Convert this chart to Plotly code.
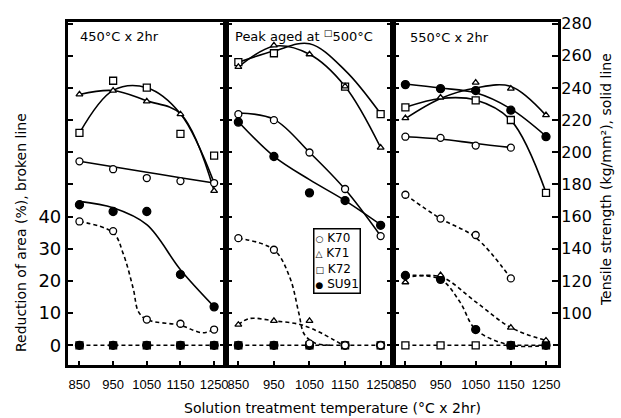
import plotly.graph_objects as go

W, H = 621, 418
FONT = "DejaVu Sans"
TICKFONT = "Liberation Sans"

temps = [850, 950, 1050, 1150, 1250]
steels = ["K70", "K71", "K72", "SU91"]

# ---------------- 450°C x 2hr ----------------
ts450_K70 = [194.4, 189.5, 184.0, 182.1, 180.9]
ts450_K71 = [236.0, 238.4, 231.7, 223.7, 176.0]
ts450_K72 = [212.1, 244.5, 240.2, 211.5, 198.0]
ts450_SU91 = [167.4, 163.2, 163.2, 124.0, 103.9]
ts450_K70_fit = [194.4, 191.0, 187.6, 184.2, 180.9]
ts450_K71_fit = [236.0, 238.4, 232.0, 224.0, 176.0]
ts450_K72_fit = [212.0, 238.5, 240.2, 224.0, 181.0]
ts450_SU91_fit = [169.5, 165.5, 155.0, 127.0, 104.0]

ra450_K70 = [38.5, 35.5, 8.0, 6.7, 4.9]
ra450_K71 = [None, None, None, None, None]
ra450_K72 = [0, 0, 0, 0, 0]
ra450_SU91 = [0, 0, 0, 0, 0]
ra450_K70_fit_t = [850, 950, 980, 1010, 1025, 1050, 1150, 1215, 1250]
ra450_K70_fit = [38.5, 35.0, 28.5, 17.5, 10.5, 8.0, 6.2, 3.9, 4.9]
ra450_K72_fit_t = [850, 1250]
ra450_K72_fit = [0, 0]

# ---------------- Peak aged at 500°C ----------------
ts500_K70 = [223.7, 220.0, 199.9, 177.2, 147.9]
ts500_K71 = [253.1, 266.5, 261.0, 241.0, 202.9]
ts500_K72 = [256.1, 261.6, None, 240.9, 223.7]
ts500_SU91 = [218.8, 197.4, 174.8, 170.0, 154.6]
ts500_K70_fit = [224.5, 220.5, 200.0, 177.0, 148.0]
ts500_K71_fit = [253.0, 266.0, 261.0, 241.0, 203.0]
ts500_K72_fit = [256.0, 263.0, 267.5, 251.0, 224.0]
ts500_SU91_fit = [219.0, 197.5, 183.0, 170.0, 155.0]

ra500_K70 = [33.3, 29.7, 0.6, 0, 0]
ra500_K71 = [6.4, 7.6, 7.6, None, None]
ra500_K72 = [0, 0, 0, 0, 0]
ra500_SU91 = [0, 0, 0, 0, 0]
ra500_K70_fit_t = [850, 950, 995, 1020, 1035, 1065, 1110]
ra500_K70_fit = [33.3, 29.7, 21.0, 10.0, 3.5, 0.7, 0.0]
ra500_K71_fit_t = [850, 880, 950, 1035, 1145]
ra500_K71_fit = [6.4, 8.3, 7.6, 6.1, 0.0]
ra500_K72_fit_t = [850, 1250]
ra500_K72_fit = [0, 0]

# ---------------- 550°C x 2hr ----------------
ts550_K70 = [209.7, 209.0, 204.2, 202.9, None]
ts550_K71 = [221.3, 234.1, 243.3, 239.6, 223.1]
ts550_K72 = [228.0, None, 232.3, 220.1, 174.8]
ts550_SU91 = [242.1, 239.6, 238.4, 226.2, 209.7]
ts550_K70_fit = [209.7, 208.3, 205.5, 203.0, None]
ts550_K71_fit = [221.0, 233.5, 240.0, 241.0, 223.0]
ts550_K72_fit = [228.0, 233.5, 232.5, 220.0, 175.0]
ts550_SU91_fit = [242.5, 240.0, 237.0, 227.0, 210.0]

ra550_K70 = [46.8, 39.4, 34.3, 20.8, None]
ra550_K71 = [19.6, 21.8, None, 5.5, 1.5]
ra550_K72 = [0, 0, 0, 0, 0]
ra550_SU91 = [21.7, 20.5, 4.9, 0, 0]
ra550_K70_fit_t = [850, 950, 1050, 1150]
ra550_K70_fit = [46.8, 39.4, 33.5, 20.8]
ra550_K71_fit_t = [850, 950, 1050, 1150, 1250]
ra550_K71_fit = [21.0, 21.3, 13.5, 5.5, 1.5]
ra550_SU91_fit_t = [850, 950, 1005, 1050, 1150, 1250]
ra550_SU91_fit = [21.7, 20.5, 13.5, 4.9, 0.0, 0.0]
ra550_K72_fit_t = [850, 1250]
ra550_K72_fit = [0, 0]

panel_titles = ["450°C x 2hr", "Peak aged at <sup>□</sup>500°C", "550°C x 2hr"]
pct_ticks = [0, 10, 20, 30, 40]
pct_all_ticks = [0, 10, 20, 30, 40, 50, 60, 70, 80, 90, 100]
kg_upper_ticks = [180, 200, 220, 240, 260, 280]
kg_ticks = [100, 120, 140, 160, 180, 200, 220, 240, 260, 280]
legend_symbols = {"K70": "○", "K71": "△", "K72": "□", "SU91": "●"}

# ---------------- figure ----------------
fig = go.Figure()

panels = [
    dict(xa="x", ya="y", yk="y4",
         ts=dict(K70=ts450_K70, K71=ts450_K71, K72=ts450_K72, SU91=ts450_SU91),
         tsfit=dict(K70=ts450_K70_fit, K71=ts450_K71_fit, K72=ts450_K72_fit, SU91=ts450_SU91_fit),
         ra=dict(K70=ra450_K70, K71=ra450_K71, K72=ra450_K72, SU91=ra450_SU91),
         rafit=[(ra450_K70_fit_t, ra450_K70_fit), (ra450_K72_fit_t, ra450_K72_fit)]),
    dict(xa="x2", ya="y2", yk="y5",
         ts=dict(K70=ts500_K70, K71=ts500_K71, K72=ts500_K72, SU91=ts500_SU91),
         tsfit=dict(K70=ts500_K70_fit, K71=ts500_K71_fit, K72=ts500_K72_fit, SU91=ts500_SU91_fit),
         ra=dict(K70=ra500_K70, K71=ra500_K71, K72=ra500_K72, SU91=ra500_SU91),
         rafit=[(ra500_K70_fit_t, ra500_K70_fit), (ra500_K71_fit_t, ra500_K71_fit),
                (ra500_K72_fit_t, ra500_K72_fit)]),
    dict(xa="x3", ya="y3", yk="y6",
         ts=dict(K70=ts550_K70, K71=ts550_K71, K72=ts550_K72, SU91=ts550_SU91),
         tsfit=dict(K70=ts550_K70_fit, K71=ts550_K71_fit, K72=ts550_K72_fit, SU91=ts550_SU91_fit),
         ra=dict(K70=ra550_K70, K71=ra550_K71, K72=ra550_K72, SU91=ra550_SU91),
         rafit=[(ra550_K70_fit_t, ra550_K70_fit), (ra550_K71_fit_t, ra550_K71_fit),
                (ra550_SU91_fit_t, ra550_SU91_fit), (ra550_K72_fit_t, ra550_K72_fit)]),
]

symbols = {"K70": "circle", "K71": "triangle-up", "K72": "square", "SU91": "circle"}
fills = {"K70": "white", "K71": "white", "K72": "white", "SU91": "black"}
sizes = {"K70": 7, "K71": 6, "K72": 7, "SU91": 8}

# curves first
for p in panels:
    for s in steels:
        fig.add_trace(go.Scatter(
            x=temps, y=p["tsfit"][s], xaxis=p["xa"], yaxis=p["yk"], mode="lines",
            line=dict(color="black", width=1.6, shape="spline", smoothing=1.0),
            showlegend=False, hoverinfo="skip"))
    for tx, ty in p["rafit"]:
        fig.add_trace(go.Scatter(
            x=tx, y=ty, xaxis=p["xa"], yaxis=p["ya"], mode="lines",
            line=dict(color="black", width=1.6, dash="4px,3px", shape="spline", smoothing=1.0),
            showlegend=False, hoverinfo="skip"))

# markers
for p in panels:
    for s in ["K72", "SU91", "K71", "K70"]:
        mk = dict(symbol=symbols[s], size=sizes[s], color=fills[s],
                  line=dict(color="black", width=1.3))
        fig.add_trace(go.Scatter(
            x=temps, y=p["ra"][s], xaxis=p["xa"], yaxis=p["ya"], mode="markers",
            marker=mk, showlegend=False, hoverinfo="skip"))
        fig.add_trace(go.Scatter(
            x=temps, y=p["ts"][s], xaxis=p["xa"], yaxis=p["yk"], mode="markers",
            marker=mk, showlegend=False, hoverinfo="skip"))

# ---------------- axes ----------------
pct_range = [-6.1, 100.6]
kg_range = [80 + 2 * pct_range[0], 80 + 2 * pct_range[1]]
x_doms = [(68, 227), (227, 395), (395, 561)]
y_dom = [1 - 364 / H, 1 - 15 / H]

layout = dict(width=W, height=H, margin=dict(l=0, r=0, t=0, b=0),
              paper_bgcolor="white", plot_bgcolor="white", showlegend=False,
              font=dict(family=FONT, color="black"))

tick_common = dict(ticks="inside", tickwidth=1.5, tickcolor="black",
                   showgrid=False, zeroline=False, fixedrange=True)

for i, (a, b) in enumerate(x_doms):
    n = "" if i == 0 else str(i + 1)
    layout["xaxis" + n] = dict(
        domain=[a / W, b / W], anchor="y" + n, range=[815, 1285],
        tickvals=temps, ticktext=[str(t) for t in temps], tickangle=0,
        ticklen=4, showline=True, linewidth=2.5, linecolor="black", mirror=True,
        tickfont=dict(size=13, family=TICKFONT), ticklabelstandoff=6, **tick_common)
    if i == 0:
        yt = dict(tickvals=pct_ticks, showticklabels=True)
    else:
        yt = dict(tickvals=pct_all_ticks, showticklabels=False)
    layout["yaxis" + n] = dict(
        domain=y_dom, anchor="x" + n, range=pct_range, ticklen=6,
        showline=True, linewidth=2.5, linecolor="black", mirror="ticks",
        tickfont=dict(size=18, family=FONT), **yt, **tick_common)
    kn = str(i + 4)
    ax = dict(domain=y_dom, anchor="x" + n, overlaying="y" + n, range=kg_range)
    if i == 0:
        ax.update(tickvals=kg_upper_ticks, showticklabels=False, ticklen=6,
                  showline=True, linewidth=2.5, linecolor="black", mirror="ticks",
                  **tick_common)
    elif i == 2:
        ax.update(side="right", tickvals=kg_ticks, ticklen=6, showline=False,
                  tickfont=dict(size=16, family=FONT), ticklabelstandoff=2,
                  **tick_common)
    else:
        ax.update(visible=False, fixedrange=True)
    layout["yaxis" + kn] = ax

ann = []
title_pos = [(78, 30), (234, 29), (410, 31)]
for t, (px, py) in zip(panel_titles, title_pos):
    ann.append(dict(text=t, x=px / W, y=1 - py / H, xref="paper", yref="paper",
                    xanchor="left", yanchor="middle", showarrow=False,
                    font=dict(size=13, family=FONT)))
ann.append(dict(text="Reduction of area (%), broken line", x=21 / W, y=1 - 229 / H,
                xref="paper", yref="paper", textangle=-90, showarrow=False,
                xanchor="center", yanchor="middle", font=dict(size=14, family=FONT)))
ann.append(dict(text="Tensile strength (kg/mm²), solid line", x=609 / W, y=1 - 176 / H,
                xref="paper", yref="paper", textangle=-90, showarrow=False,
                xanchor="center", yanchor="middle", font=dict(size=14, family=FONT)))
ann.append(dict(text="Solution treatment temperature (°C x 2hr)", x=334 / W, y=1 - 408 / H,
                xref="paper", yref="paper", showarrow=False,
                xanchor="center", yanchor="middle", font=dict(size=14, family=FONT)))
legend_text = "<br>".join(
    f"<span style='font-size:9px'>{legend_symbols[s]}</span> {s}" for s in steels)
ann.append(dict(text=legend_text, x=315 / W, y=1 - 225 / H, xref="paper", yref="paper",
                xanchor="left", yanchor="top", align="left", showarrow=False,
                bordercolor="black", borderwidth=1.5, borderpad=1, bgcolor="white",
                font=dict(size=12, family=FONT)))
layout["annotations"] = ann

fig.update_layout(**layout)
fig.write_html("out.html")
